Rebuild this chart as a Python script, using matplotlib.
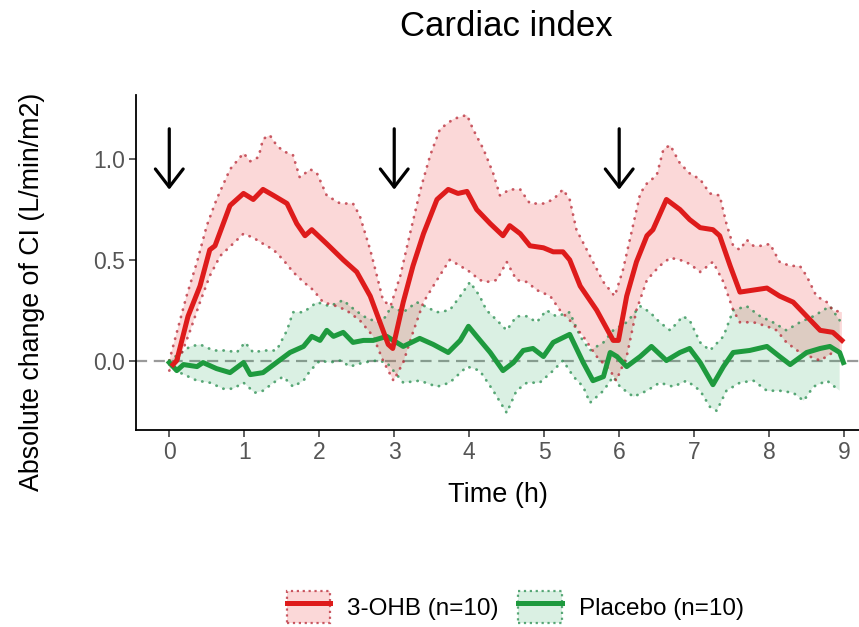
import matplotlib
matplotlib.use('Agg')
import matplotlib.pyplot as plt
import numpy as np
from matplotlib.patches import Patch
from matplotlib.lines import Line2D
from matplotlib.legend_handler import HandlerTuple

plt.rcParams['font.family'] = ['Liberation Sans', 'DejaVu Sans']

# 3-OHB mean and 95% CI
red_t = [0.05, 0.10, 0.25, 0.41, 0.54, 0.61, 0.81, 0.99, 1.12, 1.25, 1.39, 1.57, 1.70, 1.81, 1.90,
         2.10, 2.32, 2.50, 2.68, 2.81, 2.92, 2.98, 3.12, 3.25, 3.39, 3.57, 3.72, 3.85, 3.97, 4.10,
         4.28, 4.45, 4.54, 4.68, 4.81, 4.99, 5.12, 5.25, 5.34, 5.48, 5.70, 5.92, 5.99, 6.10, 6.23,
         6.37, 6.45, 6.63, 6.81, 6.94, 7.08, 7.25, 7.34, 7.48, 7.61, 7.79, 7.97, 8.14, 8.32, 8.50,
         8.68, 8.85, 8.97]
red_v = [-0.02, 0.00, 0.22, 0.37, 0.55, 0.57, 0.77, 0.83, 0.80, 0.85, 0.82, 0.78, 0.68, 0.62, 0.65,
         0.58, 0.50, 0.44, 0.32, 0.19, 0.08, 0.06, 0.29, 0.47, 0.63, 0.80, 0.85, 0.83, 0.84, 0.75,
         0.68, 0.62, 0.67, 0.63, 0.57, 0.56, 0.54, 0.54, 0.50, 0.37, 0.25, 0.10, 0.10, 0.32, 0.49,
         0.62, 0.65, 0.80, 0.75, 0.70, 0.66, 0.65, 0.62, 0.47, 0.34, 0.35, 0.36, 0.32, 0.29, 0.22,
         0.15, 0.14, 0.10]

ru_t = [0.0, 0.23, 0.37, 0.50, 0.63, 0.81, 0.99, 1.08, 1.19, 1.25, 1.34, 1.43, 1.52, 1.65, 1.74,
        1.88, 1.97, 2.10, 2.28, 2.45, 2.54, 2.68, 2.77, 2.85, 2.95, 3.08, 3.21, 3.35, 3.48, 3.61,
        3.79, 3.97, 4.05, 4.19, 4.32, 4.41, 4.54, 4.68, 4.81, 4.99, 5.12, 5.25, 5.34, 5.43, 5.61,
        5.79, 5.94, 6.05, 6.19, 6.28, 6.37, 6.50, 6.59, 6.68, 6.81, 6.94, 7.08, 7.21, 7.34, 7.43,
        7.52, 7.61, 7.70, 7.79, 7.92, 8.01, 8.14, 8.28, 8.41, 8.50, 8.63, 8.77, 8.85, 8.97]
ru_v = [0.0, 0.32, 0.49, 0.67, 0.80, 0.95, 1.03, 0.99, 1.01, 1.10, 1.12, 1.07, 1.04, 1.02, 0.91,
        0.95, 0.93, 0.82, 0.78, 0.78, 0.72, 0.55, 0.42, 0.30, 0.27, 0.42, 0.63, 0.85, 1.02, 1.15,
        1.20, 1.22, 1.15, 1.05, 0.93, 0.82, 0.85, 0.85, 0.78, 0.78, 0.80, 0.85, 0.80, 0.65, 0.52,
        0.39, 0.32, 0.45, 0.68, 0.83, 0.88, 0.92, 1.05, 1.07, 0.98, 0.93, 0.90, 0.83, 0.82, 0.68,
        0.57, 0.55, 0.60, 0.57, 0.57, 0.58, 0.49, 0.47, 0.47, 0.42, 0.32, 0.29, 0.25, 0.24]

rl_t = [0.0, 0.15, 0.28, 0.41, 0.54, 0.68, 0.85, 0.99, 1.12, 1.25, 1.39, 1.52, 1.65, 1.79, 1.92,
        2.05, 2.23, 2.36, 2.54, 2.72, 2.85, 2.99, 3.12, 3.25, 3.39, 3.57, 3.74, 3.88, 4.01, 4.14,
        4.23, 4.37, 4.50, 4.63, 4.77, 4.90, 5.08, 5.21, 5.34, 5.52, 5.70, 5.88, 5.96, 6.10, 6.23,
        6.37, 6.54, 6.68, 6.81, 6.94, 7.08, 7.25, 7.39, 7.52, 7.61, 7.79, 7.97, 8.10, 8.23, 8.41,
        8.54, 8.68, 8.85, 8.97]
rl_v = [-0.05, 0.02, 0.15, 0.29, 0.42, 0.52, 0.58, 0.63, 0.61, 0.58, 0.55, 0.50, 0.44, 0.39, 0.35,
        0.29, 0.27, 0.25, 0.20, 0.12, 0.00, -0.10, -0.01, 0.14, 0.29, 0.40, 0.50, 0.47, 0.44, 0.40,
        0.39, 0.40, 0.49, 0.40, 0.39, 0.35, 0.32, 0.25, 0.20, 0.12, 0.02, -0.05, -0.10, 0.02, 0.25,
        0.40, 0.47, 0.51, 0.50, 0.48, 0.44, 0.49, 0.39, 0.25, 0.19, 0.19, 0.17, 0.15, 0.09, 0.04,
        0.02, 0.00, 0.04, 0.05]

# Placebo mean and 95% CI
g_t = [0.0, 0.10, 0.19, 0.37, 0.45, 0.63, 0.81, 0.99, 1.08, 1.25, 1.43, 1.61, 1.79, 1.90, 2.01,
       2.10, 2.19, 2.32, 2.45, 2.59, 2.72, 2.90, 3.12, 3.34, 3.52, 3.72, 3.88, 3.99, 4.10, 4.28,
       4.45, 4.59, 4.72, 4.85, 4.99, 5.12, 5.34, 5.52, 5.65, 5.79, 5.88, 5.97, 6.10, 6.28, 6.43,
       6.63, 6.81, 6.94, 7.08, 7.25, 7.39, 7.52, 7.74, 7.97, 8.14, 8.28, 8.50, 8.68, 8.81, 8.94,
       8.99]
g_v = [-0.01, -0.05, -0.02, -0.03, -0.01, -0.04, -0.06, -0.01, -0.07, -0.06, -0.01, 0.04, 0.07, 0.12, 0.10,
       0.15, 0.12, 0.14, 0.09, 0.10, 0.10, 0.12, 0.07, 0.11, 0.08, 0.04, 0.10, 0.17, 0.12, 0.04,
       -0.05, -0.01, 0.05, 0.06, 0.02, 0.09, 0.13, -0.01, -0.10, -0.08, 0.04, 0.02, -0.03, 0.02, 0.07,
       0.00, 0.04, 0.06, -0.01, -0.12, -0.03, 0.04, 0.05, 0.07, 0.02, -0.02, 0.04, 0.06, 0.07, 0.04,
       -0.01]

gu_t = [0.0, 0.28, 0.41, 0.59, 0.77, 0.90, 1.01, 1.12, 1.25, 1.43, 1.57, 1.65, 1.79, 1.97, 2.14,
        2.32, 2.41, 2.59, 2.77, 2.90, 2.95, 3.12, 3.30, 3.57, 3.74, 3.88, 4.01, 4.14, 4.23, 4.37,
        4.50, 4.63, 4.77, 4.90, 5.03, 5.16, 5.34, 5.48, 5.61, 5.79, 5.92, 6.10, 6.28, 6.41, 6.54,
        6.68, 6.85, 6.94, 7.08, 7.21, 7.39, 7.52, 7.70, 7.88, 8.05, 8.23, 8.41, 8.59, 8.81, 8.94]
gu_v = [0.0, 0.07, 0.08, 0.05, 0.05, 0.04, 0.09, 0.04, 0.05, 0.05, 0.15, 0.24, 0.24, 0.29, 0.27,
        0.30, 0.27, 0.22, 0.19, 0.22, 0.27, 0.24, 0.29, 0.24, 0.25, 0.32, 0.39, 0.32, 0.25, 0.20,
        0.15, 0.22, 0.22, 0.19, 0.25, 0.22, 0.24, 0.12, 0.05, 0.09, 0.15, 0.19, 0.27, 0.24, 0.19,
        0.15, 0.22, 0.20, 0.09, 0.05, 0.12, 0.25, 0.27, 0.22, 0.19, 0.15, 0.19, 0.22, 0.27, 0.20]

gl_t = [0.0, 0.14, 0.37, 0.54, 0.72, 0.85, 0.99, 1.14, 1.25, 1.39, 1.52, 1.65, 1.79, 1.88, 2.01,
        2.14, 2.28, 2.41, 2.59, 2.77, 2.90, 3.12, 3.34, 3.57, 3.74, 3.97, 4.14, 4.32, 4.50, 4.63,
        4.77, 4.94, 5.12, 5.25, 5.39, 5.52, 5.61, 5.79, 5.92, 6.01, 6.19, 6.37, 6.54, 6.72, 6.90,
        7.08, 7.21, 7.30, 7.43, 7.61, 7.79, 7.97, 8.14, 8.32, 8.46, 8.59, 8.77, 8.94]
gl_v = [-0.02, -0.06, -0.10, -0.11, -0.14, -0.14, -0.11, -0.16, -0.15, -0.11, -0.08, -0.13, -0.10, -0.05, 0.00,
        -0.01, 0.00, -0.03, -0.01, 0.00, -0.01, -0.11, -0.10, -0.13, -0.11, -0.03, -0.05, -0.15, -0.26, -0.15,
        -0.11, -0.11, -0.05, 0.00, -0.08, -0.13, -0.21, -0.15, -0.08, -0.13, -0.18, -0.15, -0.11, -0.13, -0.10,
        -0.15, -0.23, -0.25, -0.15, -0.11, -0.10, -0.15, -0.15, -0.16, -0.20, -0.13, -0.10, -0.15]

dose_times = [0, 3, 6]
x_ticks = list(range(10))
y_ticks = [0.0, 0.5, 1.0]
labels = ['3-OHB (n=10)', 'Placebo (n=10)']

red = '#DE1B1B'
green = '#1E9A3E'
red_fill = (0.92, 0.25, 0.25, 0.2)
green_fill = (0.15, 0.65, 0.35, 0.17)
red_dot = (0.72, 0.15, 0.2, 0.75)
green_dot = (0.15, 0.55, 0.3, 0.75)

fig = plt.figure(figsize=(8.59, 6.27), dpi=100)
ax = fig.add_axes([0.1583, 0.3142, 1.022 - 0.1583, 0.8485 - 0.3142])

ax.axhline(0, color='#9a9a9a', lw=1.6, ls=(0, (5, 3)), zorder=1)

ax.fill(np.r_[gu_t, gl_t[::-1]], np.r_[gu_v, gl_v[::-1]], color=green_fill, lw=0, zorder=2)
ax.fill(np.r_[ru_t, rl_t[::-1]], np.r_[ru_v, rl_v[::-1]], color=red_fill, lw=0, zorder=2)

dot_ls = (0, (0.1, 2.6))
for t, v, c in [(gu_t, gu_v, green_dot), (gl_t, gl_v, green_dot),
                (ru_t, ru_v, red_dot), (rl_t, rl_v, red_dot)]:
    ax.plot(t, v, color=c, lw=2.0, ls=dot_ls, dash_capstyle='round', zorder=3)

ax.plot(g_t, g_v, color=green, lw=3.6, solid_joinstyle='round', zorder=4)
ax.plot(red_t, red_v, color=red, lw=3.6, solid_joinstyle='round', zorder=5)

for d in dose_times:
    ax.annotate('', xy=(d, 0.835), xytext=(d, 1.165),
                arrowprops=dict(arrowstyle='->,head_length=0.65,head_width=0.5',
                                lw=2.3, color='black', mutation_scale=20))

ax.set_xlim(-0.444, 9.45)
ax.set_ylim(-0.345, 1.319)
ax.set_xticks(x_ticks)
ax.set_yticks(y_ticks)
ax.set_yticklabels(['0.0', '0.5', '1.0'])
ax.tick_params(labelsize=16.5, labelcolor='#555555', color='#333333', length=5, width=1.1, pad=3)
for s in ['top', 'right']:
    ax.spines[s].set_visible(False)
for s in ['left', 'bottom']:
    ax.spines[s].set_linewidth(1.3)
ax.patch.set_alpha(0)

fig.text(0.589, 1 - 27 / 627, 'Cardiac index', ha='center', va='center', fontsize=25)
fig.text(0.037, 1 - 292 / 627, 'Absolute change of CI (L/min/m2)', ha='center', va='center',
         rotation=90, fontsize=19.3)
fig.text(0.58, 1 - 495 / 627, 'Time (h)', ha='center', va='center', fontsize=19.5)

h_red = (Patch(facecolor=red_fill, edgecolor=red_dot, ls=':', lw=1.6),
         Line2D([], [], color=red, lw=3.6))
h_green = (Patch(facecolor=green_fill, edgecolor=green_dot, ls=':', lw=1.6),
           Line2D([], [], color=green, lw=3.6))
fig.legend([h_red, h_green], labels, handler_map={tuple: HandlerTuple(ndivide=1, pad=0)},
           loc='center', bbox_to_anchor=(0.6, 1 - 607 / 627), ncol=2, frameon=False,
           fontsize=17.5, handlelength=1.8, handleheight=1.6, columnspacing=0.8,
           handletextpad=0.7)

fig.savefig('out.png', dpi=100)
